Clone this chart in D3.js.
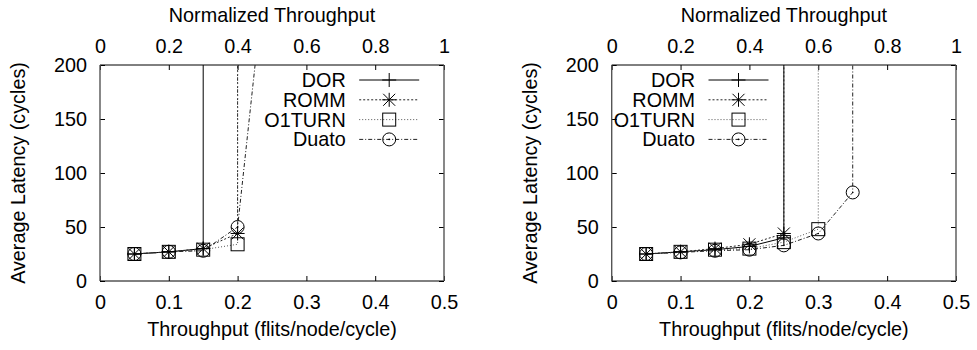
<!DOCTYPE html>
<html><head><meta charset="utf-8">
<script src="https://cdn.jsdelivr.net/npm/d3@7"></script>
<style>
html,body{margin:0;padding:0;background:#fff;}
text{font-family:"Liberation Sans",Arial,Helvetica,sans-serif;fill:#000;}
</style></head>
<body><svg id="c" width="977" height="350"></svg>
<script>
// ---- data ----
const seriesNames = ["DOR", "ROMM", "O1TURN", "Duato"];
const xTicks = [0, 0.1, 0.2, 0.3, 0.4, 0.5];
const topTicks = [0, 0.2, 0.4, 0.6, 0.8, 1];
const yTicks = [0, 50, 100, 150, 200];

// Left panel (throughput, latency); last point = saturation (off-scale)
const leftDorX = [0.05, 0.1, 0.15, 0.15];
const leftDorY = [25, 27, 30, 1000];
const leftRommX = [0.05, 0.1, 0.15, 0.2, 0.2];
const leftRommY = [25, 27, 30, 44, 1000];
const leftO1turnX = [0.05, 0.1, 0.15, 0.2, 0.2];
const leftO1turnY = [25, 27, 29, 34, 1000];
const leftDuatoX = [0.05, 0.1, 0.15, 0.2, 0.25];
const leftDuatoY = [25, 27, 28, 50, 345];

// Right panel
const rightDorX = [0.05, 0.1, 0.15, 0.2, 0.25, 0.25];
const rightDorY = [25, 27, 29, 32, 40, 1000];
const rightRommX = [0.05, 0.1, 0.15, 0.2, 0.25, 0.25];
const rightRommY = [25, 27, 30, 34, 44, 1000];
const rightO1turnX = [0.05, 0.1, 0.15, 0.2, 0.25, 0.3, 0.3];
const rightO1turnY = [25, 27, 29, 30, 36, 48, 1000];
const rightDuatoX = [0.05, 0.1, 0.15, 0.2, 0.25, 0.3, 0.35, 0.35];
const rightDuatoY = [25, 26.5, 28, 29, 33, 44, 82, 1000];

const zip = (xs, ys) => xs.map((x, i) => [x, ys[i]]);

const styles = {
  DOR:    {dash: null,        color: "#000", width: 1,   marker: "plus"},
  ROMM:   {dash: "2,2",       color: "#222", width: 1,   marker: "star"},
  O1TURN: {dash: "1,2",       color: "#555", width: 1,   marker: "square"},
  Duato:  {dash: "4,2,1,2",   color: "#222", width: 1,   marker: "circle"}
};

const svg = d3.select("#c");
const FS = 19.8;

function drawMarker(g, type, cx, cy) {
  const s = g.append("g").attr("transform", `translate(${cx},${cy})`)
    .attr("fill", "none").attr("stroke", "#000").attr("stroke-width", 1);
  if (type === "plus") {
    s.append("path").attr("d", "M-7,0H7M0,-7V7");
  } else if (type === "star") {
    s.append("path").attr("d", "M-7,0H7M0,-7V7M-6,-6L6,6M-6,6L6,-6");
  } else if (type === "square") {
    s.append("rect").attr("x", -6.5).attr("y", -6.5).attr("width", 13).attr("height", 13);
  } else if (type === "circle") {
    s.append("circle").attr("r", 6.5);
    s.append("circle").attr("r", 0.8).attr("fill", "#000").attr("stroke", "none");
  }
}

function panel(id, left, right, data, legendTextEnd) {
  const top = 65, bottom = 281;
  const x = d3.scaleLinear().domain([0, 0.5]).range([left, right]);
  const xn = d3.scaleLinear().domain([0, 1]).range([left, right]);
  const y = d3.scaleLinear().domain([0, 200]).range([bottom, top]);
  const g = svg.append("g");

  g.append("defs").append("clipPath").attr("id", "clip" + id)
    .append("rect").attr("x", left).attr("y", top).attr("width", right - left).attr("height", bottom - top);

  // axes
  const ax = (sel) => { sel.select(".domain").remove(); sel.selectAll("text").attr("font-size", FS).attr("font-family", null); sel.selectAll(".tick line").attr("stroke", "#000"); };
  g.append("g").attr("transform", `translate(0,${bottom})`)
    .call(d3.axisBottom(x).tickValues(xTicks).tickSize(-5).tickPadding(13.5).tickFormat(d3.format("~g"))).call(ax);
  g.append("g").attr("transform", `translate(0,${top})`)
    .call(d3.axisTop(xn).tickValues(topTicks).tickSize(-5).tickPadding(12.5).tickFormat(d3.format("~g"))).call(ax);
  g.append("g").attr("transform", `translate(${left},0)`)
    .call(d3.axisLeft(y).tickValues(yTicks).tickSize(-5).tickPadding(13)).call(ax);
  g.append("g").attr("transform", `translate(${right},0)`)
    .call(d3.axisRight(y).tickValues(yTicks).tickSize(-5).tickFormat("")).call(ax);

  // frame
  g.append("line").attr("x1", left).attr("x2", right).attr("y1", top).attr("y2", top).attr("stroke", "#000");
  g.append("line").attr("x1", left).attr("x2", right).attr("y1", bottom).attr("y2", bottom).attr("stroke", "#000");
  g.append("line").attr("x1", left).attr("x2", left).attr("y1", top).attr("y2", bottom).attr("stroke", "#555").attr("stroke-width", 1.4);
  g.append("line").attr("x1", right).attr("x2", right).attr("y1", top).attr("y2", bottom).attr("stroke", "#555").attr("stroke-width", 1.4);

  // titles
  const cx = (left + right) / 2;
  g.append("text").attr("x", cx).attr("y", 21.5).attr("text-anchor", "middle").attr("font-size", FS).text("Normalized Throughput");
  g.append("text").attr("x", cx).attr("y", 336).attr("text-anchor", "middle").attr("font-size", FS).text("Throughput (flits/node/cycle)");
  g.append("text").attr("transform", `translate(${left - 75},${(top + bottom) / 2}) rotate(-90)`)
    .attr("text-anchor", "middle").attr("font-size", FS).text("Average Latency (cycles)");

  // series
  const line = d3.line().x(d => x(d[0])).y(d => y(d[1]));
  const plot = g.append("g").attr("clip-path", `url(#clip${id})`);
  seriesNames.forEach(name => {
    const st = styles[name];
    plot.append("path").datum(data[name]).attr("d", line)
      .attr("fill", "none").attr("stroke", st.color).attr("stroke-width", st.width)
      .attr("stroke-dasharray", st.dash);
  });
  seriesNames.forEach(name => {
    const st = styles[name];
    data[name].filter(d => d[1] <= 200).forEach(d => drawMarker(plot, st.marker, x(d[0]), y(d[1])));
  });

  // legend
  const lg = g.append("g");
  seriesNames.forEach((name, i) => {
    const st = styles[name];
    const ly = 80 + i * 19.8;
    lg.append("text").attr("x", legendTextEnd).attr("y", ly).attr("dy", "0.35em")
      .attr("text-anchor", "end").attr("font-size", FS).text(name);
    const x0 = legendTextEnd + 13.5, x1 = x0 + 60;
    lg.append("line").attr("x1", x0).attr("x2", x1).attr("y1", ly).attr("y2", ly)
      .attr("stroke", st.color).attr("stroke-width", st.width).attr("stroke-dasharray", st.dash);
    drawMarker(lg, st.marker, (x0 + x1) / 2, ly);
  });
}

panel("L", 100, 444, {
  DOR: zip(leftDorX, leftDorY), ROMM: zip(leftRommX, leftRommY),
  O1TURN: zip(leftO1turnX, leftO1turnY), Duato: zip(leftDuatoX, leftDuatoY)
}, 345.7);
panel("R", 611.7, 956, {
  DOR: zip(rightDorX, rightDorY), ROMM: zip(rightRommX, rightRommY),
  O1TURN: zip(rightO1turnX, rightO1turnY), Duato: zip(rightDuatoX, rightDuatoY)
}, 695);
</script></body></html>
